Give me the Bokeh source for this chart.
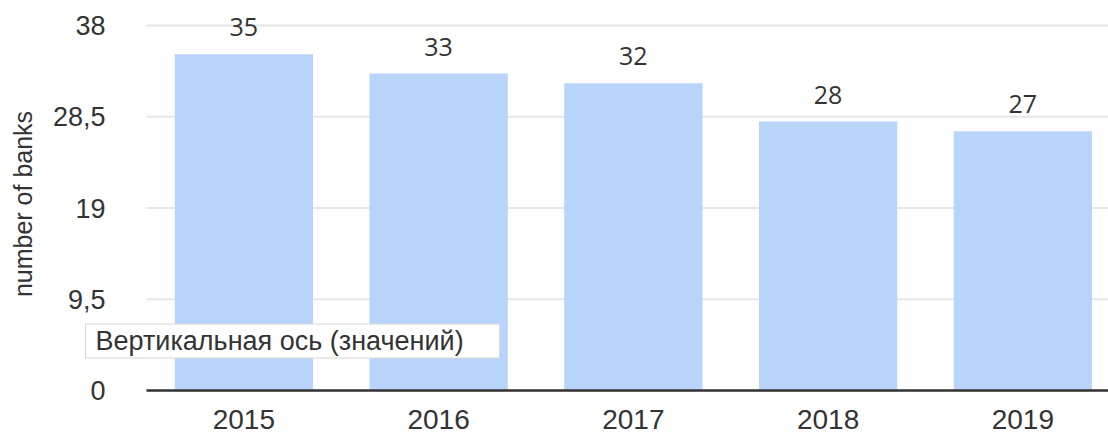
import math
from bokeh.plotting import figure
from bokeh.models import (Range1d, FixedTicker, CustomJSTickFormatter,
                          ColumnDataSource, LabelSet, Label)
from bokeh.core.properties import value
from bokeh.embed import file_html
from bokeh.resources import INLINE

# ---- data ----
years = ["2015", "2016", "2017", "2018", "2019"]
banks = [35, 33, 32, 28, 27]
y_ticks = [0, 9.5, 19, 28.5, 38]
y_tick_labels = ["0", "9,5", "19", "28,5", "38"]
axis_title = "number of banks"
tooltip_text = "Вертикальная ось (значений)"

idx = list(range(len(years)))
src = ColumnDataSource(dict(x=idx, top=banks, label=[str(v) for v in banks]))

TXT = "#333333"
W, H = 1108, 434
PLOT_LEFT, PLOT_TOP, PLOT_BOTTOM = 146, 25, 390   # pixel layout of the plotting area
FRAME_BOTTOM = 401
STEP = 194.75                                      # pixels per category

x_lo = -0.5
x_hi = len(years) - 0.5
x_start = x_lo - PLOT_LEFT / STEP
x_end = x_start + W / STEP
k = (PLOT_BOTTOM - PLOT_TOP) / y_ticks[-1]         # pixels per unit
y_start = (PLOT_BOTTOM - FRAME_BOTTOM) / k
y_end = PLOT_BOTTOM / k

p = figure(width=W, height=H, output_backend="svg", toolbar_location=None,
           x_range=Range1d(x_start, x_end), y_range=Range1d(y_start, y_end),
           y_axis_location=None,
           min_border_left=0, min_border_right=0,
           min_border_top=0, min_border_bottom=H - FRAME_BOTTOM)
p.outline_line_color = None
p.background_fill_color = "white"
p.border_fill_color = "white"
p.xgrid.visible = False
p.ygrid.visible = False

# horizontal grid lines (from the y ticks)
n = len(y_ticks)
p.segment(x0=[x_lo] * n, y0=y_ticks, x1=[x_hi] * n, y1=y_ticks,
          line_color="#e6e6e6", line_width=2)

# bars
p.vbar(x="x", top="top", bottom=0, width=0.71, source=src,
       fill_color="#b8d4fa", line_color=None)

# baseline (x axis line)
p.segment(x0=[x_lo], y0=[0], x1=[x_hi], y1=[0], line_color="#333333", line_width=2.5)

# value labels
p.add_layout(LabelSet(x="x", y="top", text="label", source=src,
                      y_offset=27, text_align="center", text_baseline="middle",
                      text_font=value("Open Sans"), text_font_size="25px",
                      text_color=TXT))

# y tick labels
p.text(x=[x_lo] * n, y=y_ticks, text=y_tick_labels, x_offset=-41,
       text_align="right", text_baseline="middle",
       text_font=value("Liberation Sans"), text_font_size="27px", text_color=TXT)

# y axis title
p.text(x=[x_lo], y=[(y_ticks[0] + y_ticks[-1]) / 2], text=[axis_title],
       angle=math.pi / 2, x_offset=-124, y_offset=-4,
       text_align="center", text_baseline="middle",
       text_font=value("Liberation Sans"), text_font_size="25px", text_color=TXT)

# x axis (labels only)
p.xaxis.ticker = FixedTicker(ticks=idx)
p.xaxis.formatter = CustomJSTickFormatter(
    args=dict(ylabels=years),
    code="const i = Math.round(tick); return (i >= 0 && i < ylabels.length) ? ylabels[i] : '';")
p.xaxis.axis_line_color = None
p.xaxis.major_tick_line_color = None
p.xaxis.minor_tick_line_color = None
p.xaxis.major_label_standoff = 2
p.xaxis.major_label_text_font = "Liberation Sans"
p.xaxis.major_label_text_font_size = "28px"
p.xaxis.major_label_text_color = TXT

# tooltip-like box: soft shadow + box
p.add_layout(Label(x=x_start + 87 / STEP, y=5.15 - 2 / k, text=tooltip_text,
                   text_align="left", text_baseline="middle",
                   text_font="Liberation Sans", text_font_size="27px",
                   text_color="#e4e4e4", text_alpha=0.0,
                   background_fill_color="#000000", background_fill_alpha=0.08,
                   border_line_color=None,
                   padding=(10, 36, 2, 2)))
p.add_layout(Label(x=x_start + 85 / STEP, y=5.15, text=tooltip_text,
                   text_align="left", text_baseline="middle",
                   text_font="Liberation Sans", text_font_size="27px",
                   text_color=TXT, background_fill_color="white",
                   border_line_color="#d6d6d6", border_line_width=1,
                   padding=(10, 36, 2, 2)))

open("out.html", "w").write(file_html(p, INLINE))
